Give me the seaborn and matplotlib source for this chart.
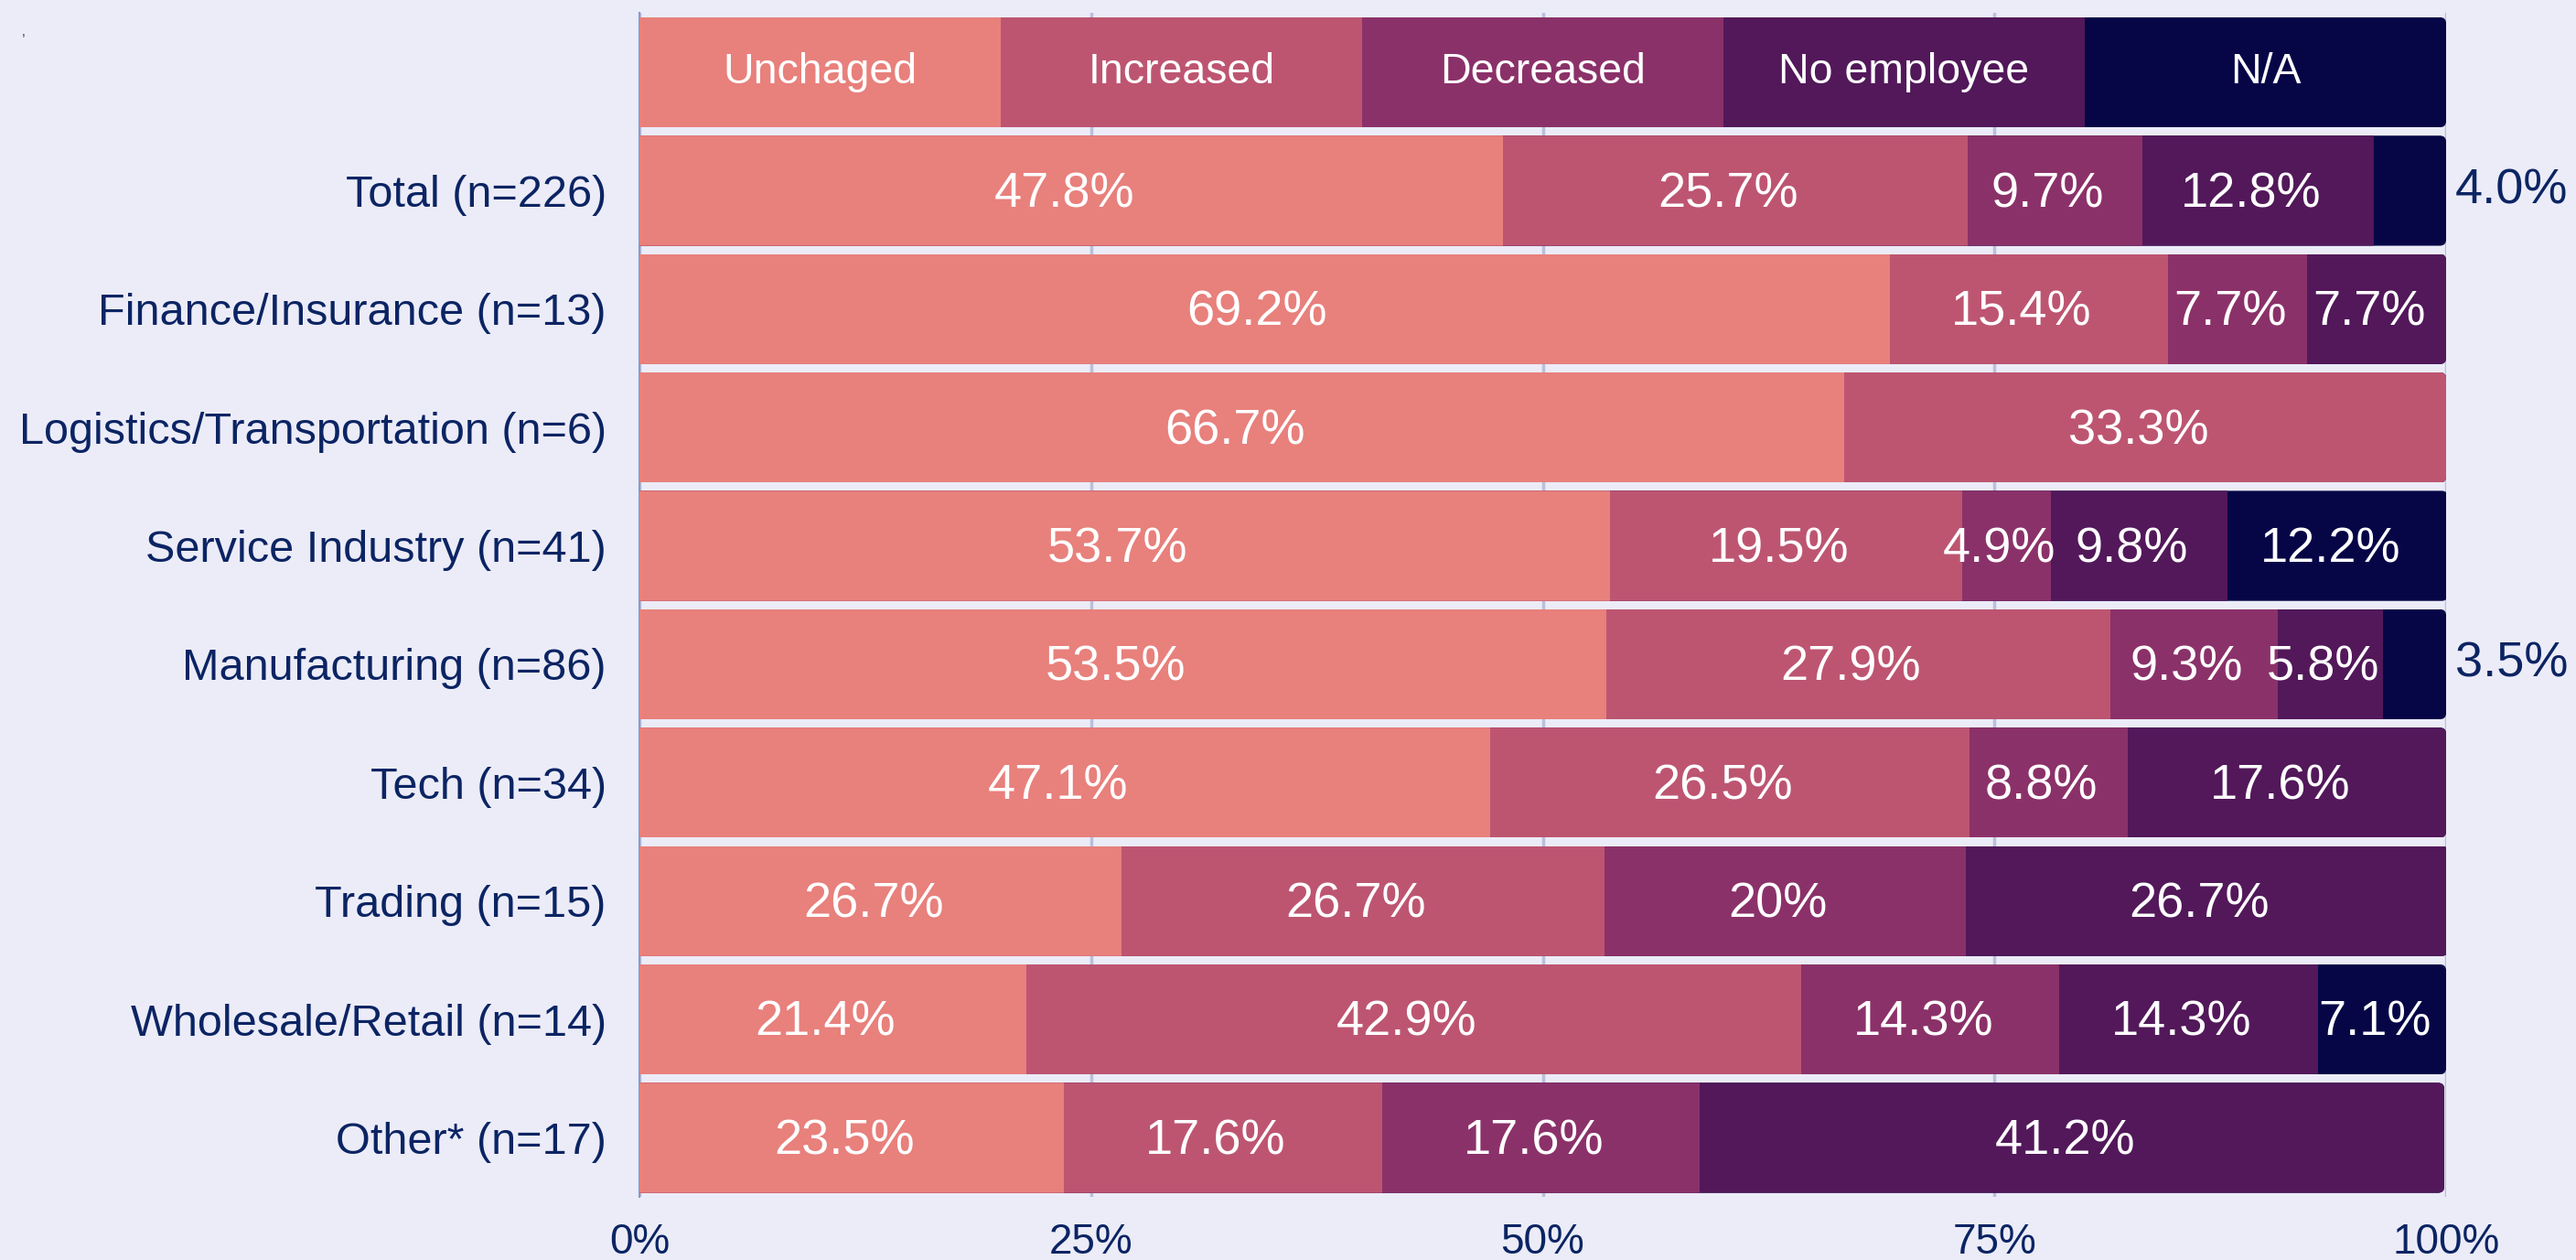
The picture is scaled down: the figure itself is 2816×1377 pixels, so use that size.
import numpy as np
import pandas as pd
import matplotlib
matplotlib.use("Agg")
import matplotlib.pyplot as plt
import seaborn as sns
from matplotlib.patches import FancyBboxPatch

# ---------------- data ----------------
categories = ["Total (n=226)", "Finance/Insurance (n=13)", "Logistics/Transportation (n=6)",
              "Service Industry (n=41)", "Manufacturing (n=86)", "Tech (n=34)",
              "Trading (n=15)", "Wholesale/Retail (n=14)", "Other* (n=17)"]
series = ["Unchaged", "Increased", "Decreased", "No employee", "N/A"]
# values as displayed (strings keep the printed format)
unchanged   = ["47.8", "69.2", "66.7", "53.7", "53.5", "47.1", "26.7", "21.4", "23.5"]
increased   = ["25.7", "15.4", "33.3", "19.5", "27.9", "26.5", "26.7", "42.9", "17.6"]
decreased   = ["9.7",  "7.7",  "0",    "4.9",  "9.3",  "8.8",  "20",   "14.3", "17.6"]
no_employee = ["12.8", "7.7",  "0",    "9.8",  "5.8",  "17.6", "26.7", "14.3", "41.2"]
na          = ["4.0",  "0",    "0",    "12.2", "3.5",  "0",    "0",    "7.1",  "0"]
xticks = [0, 25, 50, 75, 100]
xticklabels = ["0%", "25%", "50%", "75%", "100%"]

colors = ["#E8807C", "#BD5571", "#8B3169", "#52185A", "#060647"]
bg = "#ECECF8"
navy = "#0B2463"

cols = [unchanged, increased, decreased, no_employee, na]
vals = np.array([[float(v) for v in c] for c in cols]).T  # rows x series
labels = np.array(cols, dtype=object).T

legend_row = ""
rows = [legend_row] + categories
legend_vals = np.full(len(series), 100.0 / len(series))
allvals = np.vstack([legend_vals, vals])

df = pd.DataFrame(allvals, columns=series)
df.insert(0, "row", rows)
cum = df[series].cumsum(axis=1)
cum["row"] = rows

# ---------------- plot ----------------
sns.set_theme(style="whitegrid")
plt.rcParams["font.family"] = ["Liberation Sans", "DejaVu Sans"]

fig = plt.figure(figsize=(28.16, 13.77), dpi=100, facecolor=bg)
ax = fig.add_axes([0.2482, 0.050, 0.7014, 0.9396])
ax.set_facecolor(bg)

for i in reversed(range(len(series))):
    sns.barplot(data=cum, x=series[i], y="row", order=rows, orient="h",
                color=colors[i], saturation=1, width=0.93, ax=ax,
                linewidth=0, zorder=2)

ax.set_xlim(0, 100)
ax.set_xlabel("")
ax.set_ylabel("")

# rounded right ends: clip each row's patches with a rounded box
ncat = len(rows)
patches = list(ax.patches)
fig.canvas.draw()
bbox = ax.get_window_extent()
px_x = bbox.width / 100.0
px_y = bbox.height / ncat
r_px = 7.0
rs = r_px / px_x
aspect = (r_px / px_y) / rs
for p in patches:
    y0 = p.get_y()
    h = p.get_height()
    row_idx = int(round(y0 + h / 2))
    total = allvals[row_idx].sum()
    clip = FancyBboxPatch((-5, y0), total + 5, h,
                          boxstyle=f"round,pad=0,rounding_size={rs}",
                          mutation_aspect=aspect, transform=ax.transData)
    p.set_clip_path(clip)

# legend row text
left = 0.0
for j, s in enumerate(series):
    ax.text(left + legend_vals[j] / 2, 0, s, ha="center", va="center",
            color="white", fontsize=33.5, zorder=5)
    left += legend_vals[j]

# value labels
for r in range(len(categories)):
    left = 0.0
    yrow = r + 1
    nz = [j for j in range(len(series)) if vals[r, j] > 0]
    for j in nz:
        v = vals[r, j]
        txt = labels[r, j] + "%"
        if v < 4.5 and j == nz[-1]:
            ax.text(left + v + 0.5, yrow, txt, ha="left", va="center",
                    color=navy, fontsize=39, zorder=5, clip_on=False)
        else:
            ax.text(left + v / 2 - 0.4, yrow + 0.03, txt, ha="center", va="center",
                    color="white", fontsize=39, zorder=5)
        left += v

ax.set_xticks(xticks)
ax.set_xticklabels(xticklabels)
ax.tick_params(axis="x", labelsize=33, labelcolor=navy, length=0, pad=20)
ax.tick_params(axis="y", labelsize=35, labelcolor=navy, length=0, pad=26)
ax.grid(axis="x", color="#B8C0DA", linewidth=2.5, zorder=0)
ax.grid(axis="y", visible=False)
ax.set_axisbelow(True)
for side in ["top", "right", "bottom"]:
    ax.spines[side].set_visible(False)
ax.spines["left"].set_color("#8A9AC8")
ax.spines["left"].set_linewidth(1.5)
ax.spines["left"].set_zorder(1)

fig.text(0.0085, 0.972, ",", fontsize=10, color="#333333")

fig.savefig("out.png", dpi=100, facecolor=bg)
